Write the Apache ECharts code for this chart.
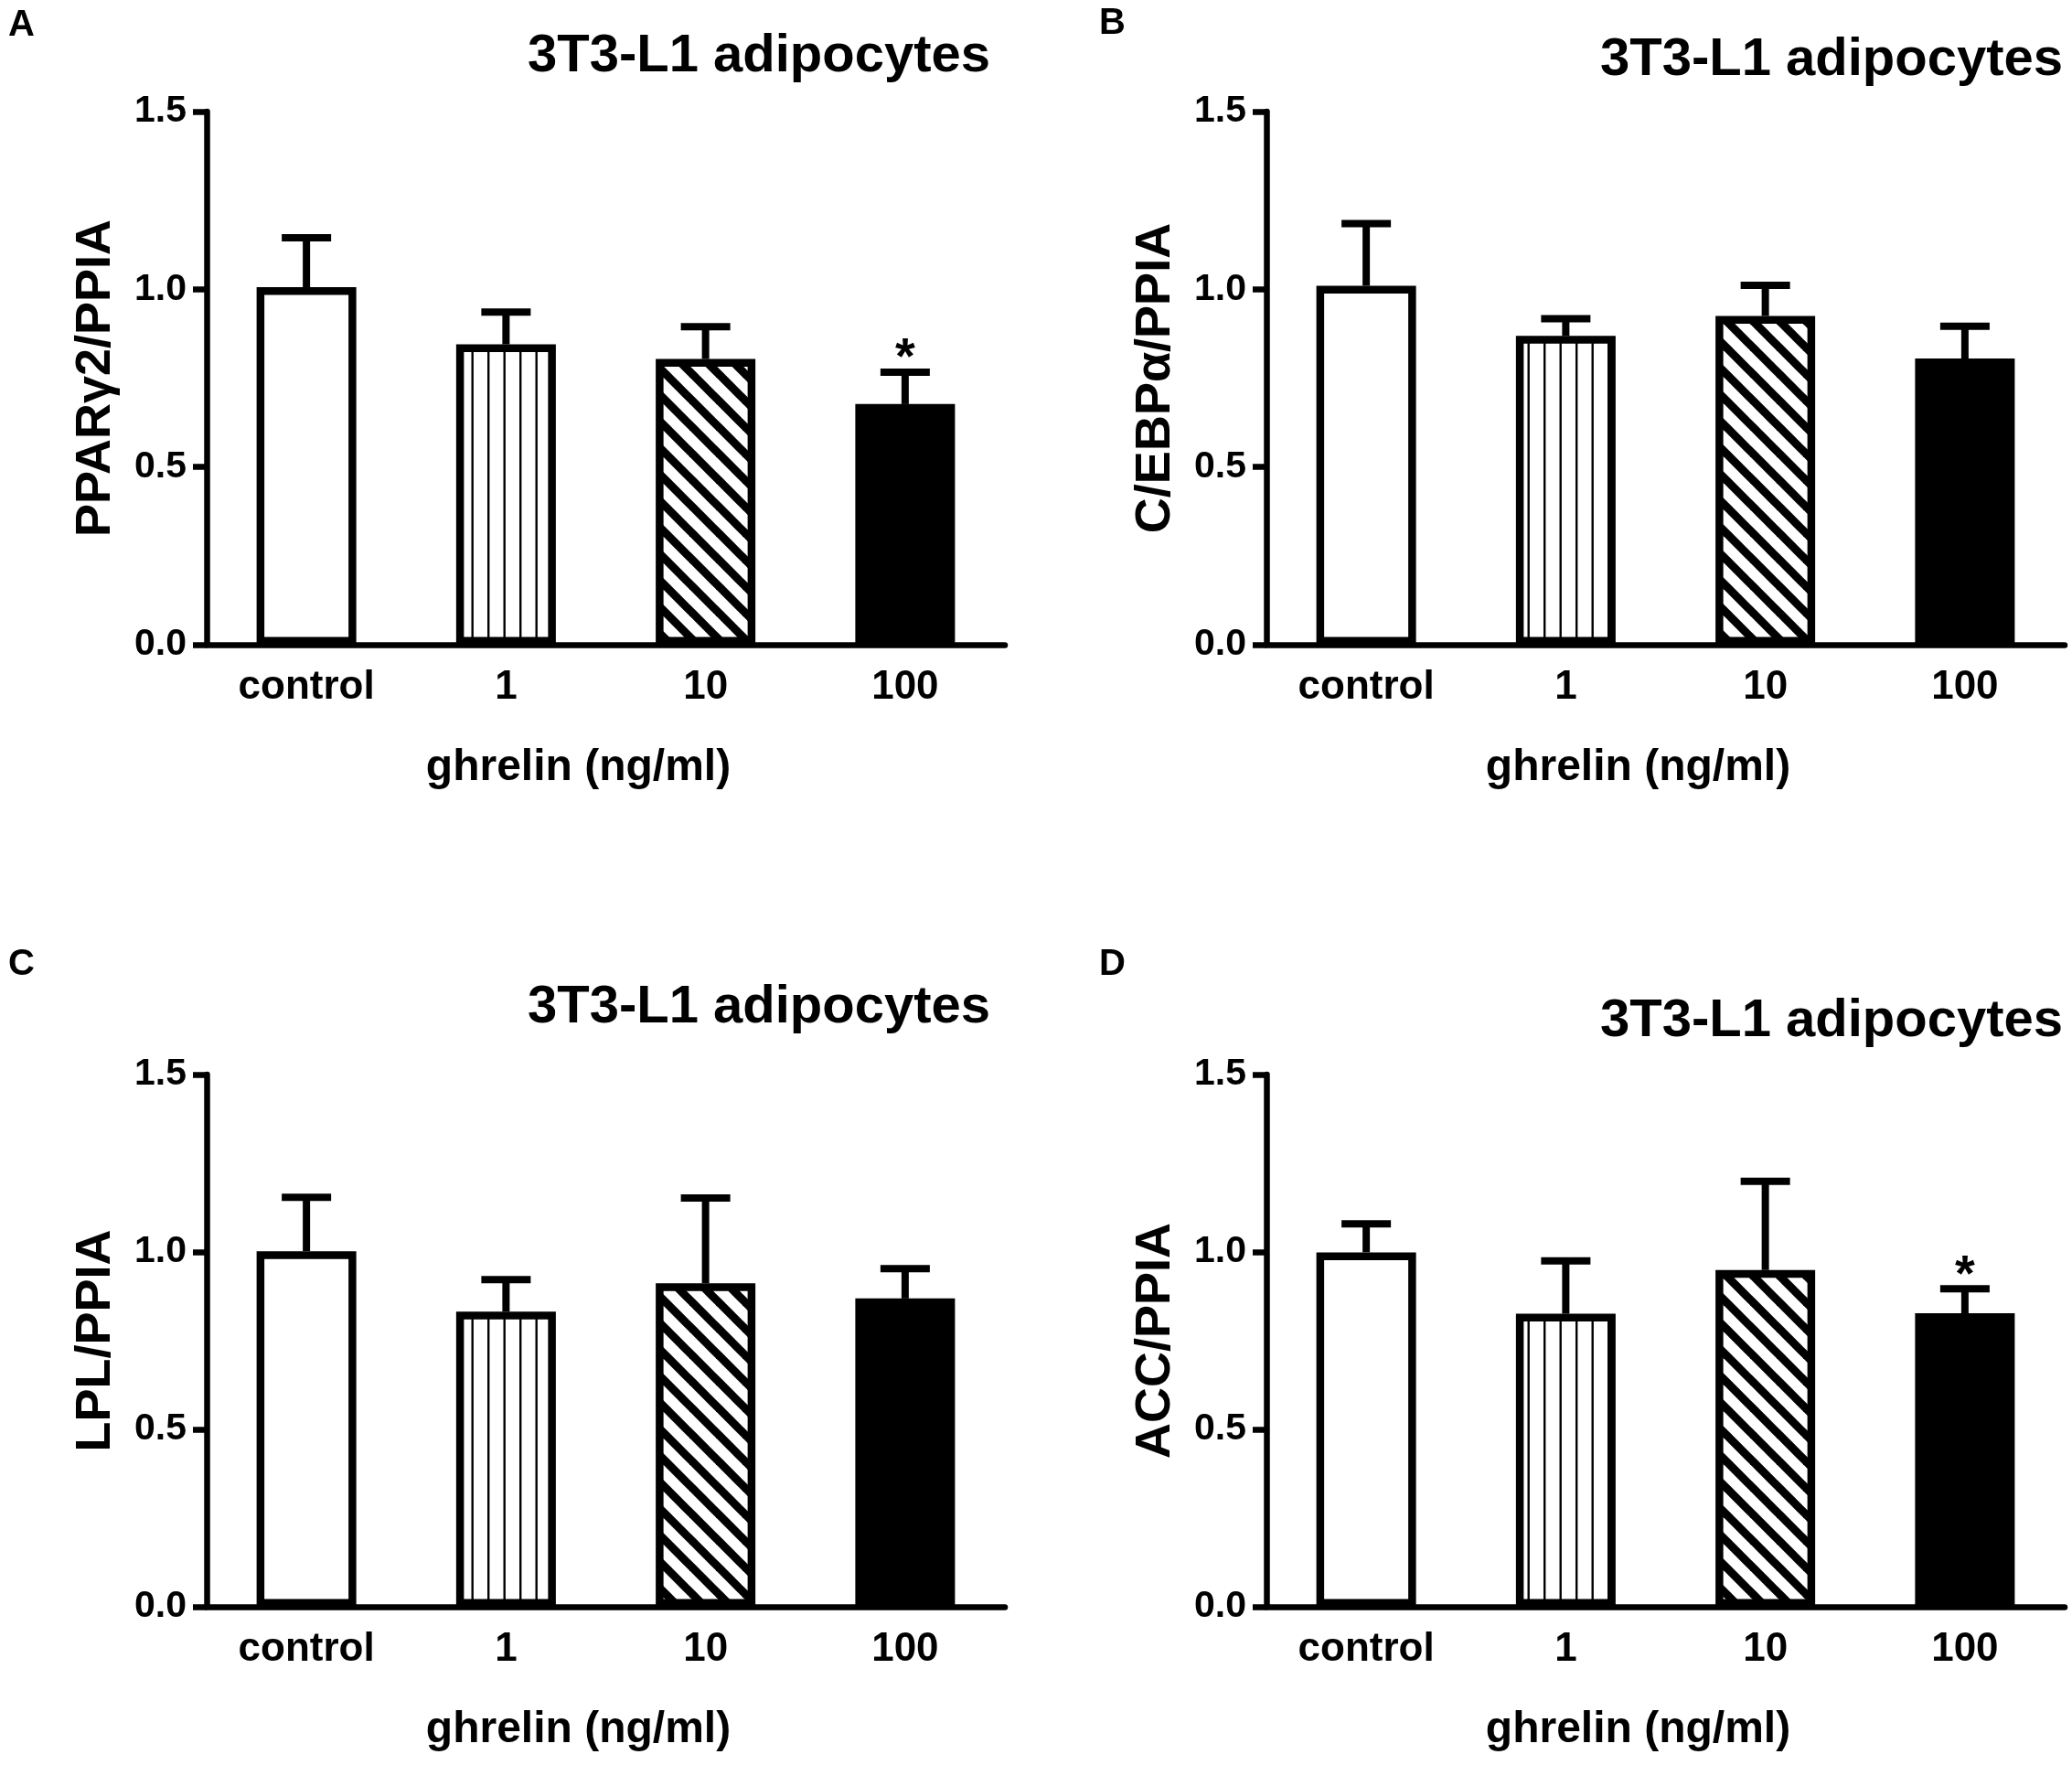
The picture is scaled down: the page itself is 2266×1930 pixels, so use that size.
<!DOCTYPE html>
<html>
<head>
<meta charset="utf-8">
<title>3T3-L1 adipocytes</title>
<script src="https://cdn.jsdelivr.net/npm/echarts@6/dist/echarts.min.js"></script>
<style>
  html, body { margin: 0; padding: 0; background: #fff; }
  #chart { width: 2266px; height: 1930px; }
</style>
</head>
<body>
<div id="chart"></div>
<script>
// data (mean and upper SEM per group)
const categories = ['control', '1', '10', '100'];

const meanA = [1.006, 0.845, 0.804, 0.677];
const semA  = [0.139, 0.091, 0.091, 0.090];
const sigA  = ['', '', '', '*'];

const meanB = [1.010, 0.869, 0.925, 0.805];
const semB  = [0.175, 0.048, 0.086, 0.091];
const sigB  = ['', '', '', ''];

const meanC = [1.002, 0.832, 0.912, 0.869];
const semC  = [0.152, 0.090, 0.240, 0.084];
const sigC  = ['', '', '', ''];

const meanD = [0.999, 0.826, 0.949, 0.827];
const semD  = [0.080, 0.149, 0.250, 0.069];
const sigD  = ['', '', '', '*'];

const yNames = ['PPARγ2/PPIA', 'C/EBPα/PPIA', 'LPL/PPIA', 'ACC/PPIA'];
const panelLetters = ['A', 'B', 'C', 'D'];
const panelTitle = '3T3-L1 adipocytes';
const xName = 'ghrelin (ng/ml)';

const FONT = '"Liberation Sans", Arial, Helvetica, sans-serif';

// hatch fills
function vLines() {
    const c = document.createElement('canvas');
    c.width = 35; c.height = 8;
    const g = c.getContext('2d');
    g.fillStyle = '#fff';
    g.fillRect(0, 0, 35, 8);
    g.fillStyle = '#000';
    g.fillRect(8, 0, 2.4, 8);
    g.fillRect(25.5, 0, 2.4, 8);
    return c;
}

function diagLines() {
    const s = 29;
    const c = document.createElement('canvas');
    c.width = s; c.height = s;
    const g = c.getContext('2d');
    g.fillStyle = '#fff';
    g.fillRect(0, 0, s, s);
    g.strokeStyle = '#000';
    g.lineWidth = 9;
    [-s, 0, s].forEach((k) => {
        g.beginPath();
        g.moveTo(-6, k - 6);
        g.lineTo(s + 6, k + s + 6);
        g.stroke();
    });
    return c;
}

const fills = ['#fff', { image: vLines(), repeat: 'repeat' }, { image: diagLines(), repeat: 'repeat' }, '#000'];

const panels = [
    { mean: meanA, sem: semA, sig: sigA, grid: { left: 226, top: 122, width: 873, height: 583 } },
    { mean: meanB, sem: semB, sig: sigB, grid: { left: 1385, top: 122, width: 873, height: 583 } },
    { mean: meanC, sem: semC, sig: sigC, grid: { left: 226, top: 1175, width: 873, height: 582 } },
    { mean: meanD, sem: semD, sig: sigD, grid: { left: 1385, top: 1175, width: 873, height: 582 } }
];

const titlePos = [[1083, 62], [2256, 66], [1083, 1102], [2256, 1117]];
const letterPos = [[9, 28], [1202, 26], [9, 1055], [1202, 1055]];

function errRenderer(sig) {
    return (params, api) => {
        const i = api.value(0);
        const base = api.coord([i, api.value(1)]);
        const top = api.coord([i, api.value(2)]);
        const kids = [
            { type: 'line', shape: { x1: base[0], y1: base[1], x2: top[0], y2: top[1] }, style: { stroke: '#000', lineWidth: 8 } },
            { type: 'line', shape: { x1: top[0] - 27, y1: top[1], x2: top[0] + 27, y2: top[1] }, style: { stroke: '#000', lineWidth: 8 } }
        ];
        if (sig[params.dataIndex]) {
            kids.push({
                type: 'text',
                x: top[0], y: top[1] - 14,
                style: { text: sig[params.dataIndex], fill: '#000', font: 'bold 56px ' + FONT, align: 'center', verticalAlign: 'middle' }
            });
        }
        return { type: 'group', children: kids };
    };
}

const grids = [], xAxes = [], yAxes = [], series = [];

panels.forEach((p, k) => {
    grids.push(p.grid);

    xAxes.push({
        type: 'category', gridIndex: k, data: categories,
        axisLine: { lineStyle: { color: '#000', width: 6.5 } },
        axisTick: { alignWithLabel: true, length: 17, lineStyle: { color: '#000', width: 6.5 } },
        axisLabel: { color: '#000', fontFamily: FONT, fontWeight: 'bold', fontSize: 44, margin: 25 },
        name: xName, nameLocation: 'middle', nameGap: 111,
        nameTextStyle: { color: '#000', fontFamily: FONT, fontWeight: 'bold', fontSize: 48, padding: [0, 60, 0, 0] }
    });

    yAxes.push({
        type: 'value', gridIndex: k, min: 0, max: 1.5, interval: 0.5,
        axisLine: { show: true, lineStyle: { color: '#000', width: 6.5 } },
        axisTick: { show: true, length: 15, lineStyle: { color: '#000', width: 6.5 } },
        axisLabel: { color: '#000', fontFamily: FONT, fontWeight: 'bold', fontSize: 41, margin: 22, formatter: (v) => v.toFixed(1) },
        splitLine: { show: false },
        name: yNames[k], nameLocation: 'middle', nameGap: 94, nameRotate: 90,
        nameTextStyle: { color: '#000', fontFamily: FONT, fontWeight: 'bold', fontSize: 54 }
    });

    series.push({
        type: 'bar', xAxisIndex: k, yAxisIndex: k, barWidth: 109,
        data: p.mean.map((v, i) => ({
            value: v,
            itemStyle: { color: fills[i], borderColor: '#000', borderWidth: 8.5 }
        })),
        emphasis: { disabled: true },
        animation: false
    });

    series.push({
        type: 'custom', xAxisIndex: k, yAxisIndex: k, z: 5,
        renderItem: errRenderer(p.sig),
        data: p.mean.map((v, i) => [i, v, v + p.sem[i]]),
        animation: false
    });
});

const graphic = [];
titlePos.forEach((pos, k) => {
    graphic.push({
        type: 'text', x: pos[0], y: pos[1],
        style: { text: panelTitle, fill: '#000', font: 'bold 58px ' + FONT, align: 'right', verticalAlign: 'middle', textAlign: 'right', textVerticalAlign: 'middle' }
    });
    graphic.push({
        type: 'text', x: letterPos[k][0], y: letterPos[k][1],
        style: { text: panelLetters[k], fill: '#000', font: 'bold 40px ' + FONT, align: 'left', verticalAlign: 'middle', textAlign: 'left', textVerticalAlign: 'middle' }
    });
});

const chart = echarts.init(document.getElementById('chart'));
chart.setOption({
    backgroundColor: '#fff',
    animation: false,
    grid: grids,
    xAxis: xAxes,
    yAxis: yAxes,
    series: series,
    graphic: graphic
});

window.addEventListener('resize', () => chart.resize(), false);
</script>
</body>
</html>
